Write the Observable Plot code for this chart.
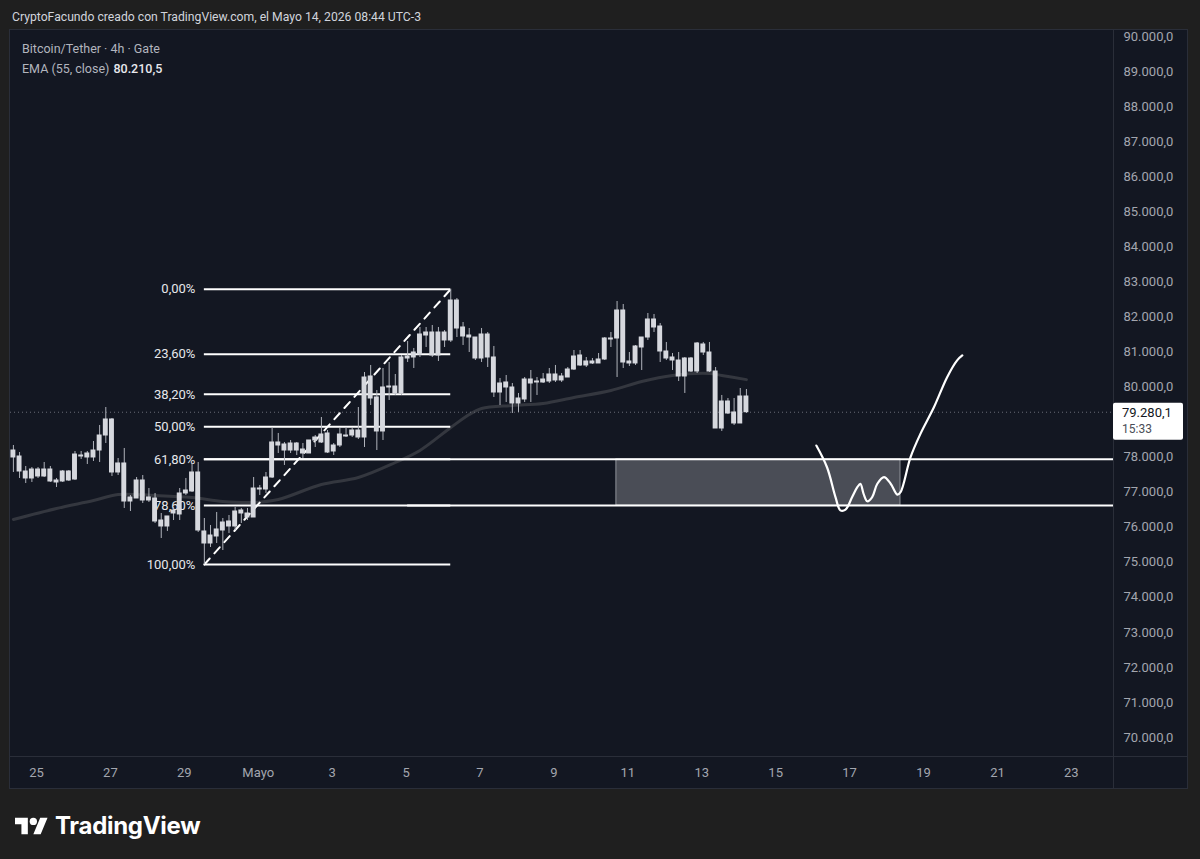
<!DOCTYPE html>
<html><head><meta charset="utf-8">
<script src="https://cdn.jsdelivr.net/npm/d3@7"></script>
<script src="https://cdn.jsdelivr.net/npm/@observablehq/plot@0.6"></script>
<style>
html,body{margin:0;padding:0;background:#1f1f1f;width:1200px;height:859px;overflow:hidden;font-family:Roboto,"Liberation Sans",sans-serif;}
#title{position:absolute;left:12px;top:10px;color:#d1d4dc;font-size:12.2px;white-space:nowrap;}
#panel{position:absolute;left:10px;top:30px;width:1177px;height:758px;background:#131722;box-shadow:0 0 0 1px #2a2e39;}
#panel svg{display:block;}
.leg{position:absolute;left:12px;font-size:12.5px;color:#b2b5be;white-space:nowrap;}
.leg b{color:#e8e9ee;font-weight:500;margin-left:4px;}
#logo{position:absolute;left:15px;top:811px;display:flex;align-items:center;color:#fff;}
#logo span{font-family:Inter,Roboto,sans-serif;font-weight:700;font-size:24px;margin-left:7px;letter-spacing:-0.3px;}
</style></head>
<body>
<div id="title">CryptoFacundo creado con TradingView.com, el Mayo 14, 2026 08:44 UTC-3</div>
<div id="panel">
  <div class="leg" style="top:11px">Bitcoin/Tether · 4h · Gate</div>
  <div class="leg" style="top:31px">EMA (55, close)<b>80.210,5</b></div>
</div>
<div id="logo">
  <svg width="33" height="20" viewBox="0 6 36 20"><path fill="#fff" d="M14 25H7V14H0V7h14v18zM28 25h-8l7.5-18h8L28 25z"/><circle fill="#fff" cx="20" cy="11" r="4"/></svg>
  <span>TradingView</span>
</div>
<script>
// ---- data ----
const candleStart = "2026-04-24T09:00:00Z"; // first 4h candle
const open = [78188,78017,77390,77390,77646,77447,77646,77276,77304,77589,77361,78046,77989,77989,78188,78616,79073,77561,77818,76733,76819,77333,76762,76819,76191,76020,76391,76363,76962,77019,77561,75878,75535,75735,75906,76020,76020,76477,76391,76277,77076,77076,77418,78417,78360,78188,78388,78217,78103,78474,78417,78674,78160,78331,78616,78616,78759,78559,80300,79701,78731,79986,80014,79815,80813,80842,80927,81469,81555,80899,81555,81327,82468,81698,81469,81412,80813,81498,80842,79843,80129,79986,79529,79644,80214,80129,80129,80157,80357,80186,80271,80499,80899,80728,80671,80671,80785,81384,81384,82183,80671,80671,81127,81412,81926,81726,81013,80842,80756,80300,80813,80442,81213,80984,80442,78816,79586,79273,78959,79729];
const high = [78331,78131,77732,77703,77703,77846,77732,77390,77618,77618,78160,78160,78160,78445,78902,79415,79101,77960,78246,76905,77418,77475,77104,76962,76391,76306,76562,77104,77390,77818,77846,76248,76049,76420,76248,76334,76562,76534,76534,77418,77190,77561,78845,78674,78417,78474,78417,78388,78474,78616,79130,78759,78388,78816,78845,78816,79415,80414,80614,79900,80528,80699,80357,80899,81298,81099,81698,81698,81755,81698,81612,82790,82525,81840,81669,81412,81669,81555,81156,80243,80328,80100,79815,80271,80471,80271,80385,80528,80614,80385,80556,81041,81041,80842,80813,80956,81412,81555,82439,82354,80984,81184,81412,82097,82069,81812,81270,80956,80984,80842,80842,81270,81270,81270,80556,79758,79672,79672,79957,79929];
const low = [77561,77390,77247,77276,77390,77418,77276,77133,77276,77304,77333,77932,77789,77875,77846,78388,77447,77475,76534,76448,76819,76676,76705,76106,75678,75878,76191,76191,76905,76990,75849,74936,75421,75535,75335,75821,75906,76106,76191,76277,76905,76962,77390,78103,77761,78103,78046,77960,78103,78274,78388,78103,78046,78274,78559,78559,78502,78274,79472,78188,78474,79615,79758,79758,80699,80528,80842,81127,80842,80728,81127,81270,81412,81184,80984,80756,80699,80556,79701,79472,79558,79244,79273,79558,79558,79758,80100,80100,80129,80129,80271,80471,80585,80556,80642,80671,80756,81127,80271,80528,80585,80614,80471,81327,81555,80699,80756,80471,80157,79815,80414,80385,80899,80414,78816,78731,79216,78902,78959,79244];
const close = [77989,77589,77589,77646,77447,77646,77304,77333,77589,77333,78074,78017,78103,78188,78616,79073,77561,77818,76733,76848,77333,76762,76848,76163,76020,76306,76477,76962,77047,77561,75906,75535,75763,75935,76134,76163,76448,76391,76277,77104,77104,77418,78417,78331,78188,78388,78188,78103,78474,78559,78645,78131,78331,78645,78588,78759,78559,80271,79672,78731,79986,80014,79815,80842,80870,80984,81498,81555,80899,81555,81327,82468,81669,81441,81412,80813,81498,80842,79843,80100,79986,79529,79672,80214,80100,80157,80214,80357,80186,80300,80499,80870,80614,80614,80728,80785,81384,81355,82183,80699,80728,81156,81412,81926,81698,81013,80813,80756,80300,80813,80442,81241,80984,80442,78816,79586,79244,78959,79729,79280.1];

// EMA(55) sampled at candle indices
const emaIdx = [0,7,13,17,23,29,34,39,43,50,56,62,66,71,74,76,81,86,91,97,102,107,113,115,119];
const emaVal = [76220,76534,76762,76933,76905,76848,76734,76705,76790,77219,77418,77846,78190,78844,79216,79387,79473,79530,79700,79900,80157,80329,80386,80329,80210.5];

// Fibonacci retracement (candle 32 low -> candle 72 high)
const fibStartIdx = 31, fibEndIdx = 71;
const fibHigh = 82790, fibLow = 74936;
const fibLevels = [0, 0.236, 0.382, 0.5, 0.618, 0.786, 1];
const fibLabels = ["0,00%","23,60%","38,20%","50,00%","61,80%","78,60%","100,00%"];
const rayLevels = [0.618, 0.786];
const rayStartIdx = [31, 64];

// zone rectangle
const zoneStart = "2026-05-10T16:34:00Z", zoneEnd = "2026-05-18T09:02:00Z";

// hand-drawn projection
const pathTimes = ["2026-05-16T02:24","2026-05-16T09:20","2026-05-16T14:50","2026-05-16T18:00","2026-05-16T21:20","2026-05-17T01:40","2026-05-17T05:00","2026-05-17T07:00","2026-05-17T09:05","2026-05-17T11:30","2026-05-17T14:40","2026-05-17T18:00","2026-05-17T22:20","2026-05-18T02:40","2026-05-18T07:00","2026-05-18T09:05","2026-05-18T15:35","2026-05-18T22:05","2026-05-19T06:45","2026-05-19T15:20","2026-05-19T21:50","2026-05-20T01:10"];
const pathPrices = [78330,77710,76860,76480,76500,76860,77140,77240,76950,76740,76860,77240,77430,77240,76930,77000,78000,78670,79420,80280,80760,80900];

const lastPrice = 79280.1, lastTimer = "15:33";
// 79.000,0 is hidden behind the last-price label in the original
const yTicks = [70000,71000,72000,73000,74000,75000,76000,77000,78000,80000,81000,82000,83000,84000,85000,86000,87000,88000,89000,90000];
const xTickDates = ["2026-04-25","2026-04-27","2026-04-29","2026-05-01","2026-05-03","2026-05-05","2026-05-07","2026-05-09","2026-05-11","2026-05-13","2026-05-15","2026-05-17","2026-05-19","2026-05-21","2026-05-23"];
const xTickLabels = ["25","27","29","Mayo","3","5","7","9","11","13","15","17","19","21","23"];

// ---- build ----
const H4 = 4*3600e3;
const t0 = new Date(candleStart).getTime();
const candles = open.map((o,i)=>({time:new Date(t0+i*H4), open:o, high:high[i], low:low[i], close:close[i]}));
const ema = emaIdx.map((k,i)=>({time:new Date(t0+k*H4), value:emaVal[i]}));
const fibT1 = new Date(t0+fibStartIdx*H4), fibT2 = new Date(t0+fibEndIdx*H4);
const fibPrice = l => fibHigh - l*(fibHigh-fibLow);
const fib = fibLevels.map((l,i)=>({price:fibPrice(l), label:fibLabels[i]}));
const xDomain = [new Date("2026-04-24T07:07:00Z"), new Date("2026-05-24T03:22:00Z")];
const rays = rayLevels.map((l,i)=>({price:fibPrice(l), t1:new Date(t0+rayStartIdx[i]*H4)}));
const path = pathTimes.map((t,i)=>({time:new Date(t+":00Z"), price:pathPrices[i]}));
const labelByTime = new Map(xTickDates.map((d,i)=>[+new Date(d+"T00:00:00Z"), xTickLabels[i]]));
const fmt = d3.formatLocale({decimal:",", thousands:".", grouping:[3], currency:["",""]}).format(",.1f");
const halfBody = 1.6*3600e3;

const chart = Plot.plot({
  width:1177, height:758, marginLeft:0, marginRight:74, marginTop:0, marginBottom:32,
  style:{background:"#131722", color:"#a3a6af", fontFamily:"Roboto, sans-serif", fontSize:"13px"},
  x:{type:"utc", domain:xDomain},
  y:{domain:[69458, 90171]},
  marks:[
    Plot.axisY({anchor:"right", ticks:yTicks, tickFormat:fmt, tickSize:0, tickPadding:10, fill:"#a3a6af", fontSize:13, label:null}),
    Plot.axisX({ticks:xTickDates.map(d=>new Date(d+"T00:00:00Z")), tickFormat:d=>labelByTime.get(+d), tickSize:0, tickPadding:11, fill:"#a3a6af", fontSize:13, label:null}),
    Plot.line(ema, {x:"time", y:"value", stroke:"#34373f", strokeWidth:3, curve:"catmull-rom"}),
    Plot.ruleY([lastPrice], {stroke:"#6a6d78", strokeDasharray:"1,3", strokeWidth:1}),
    Plot.rect([{}], {x1:()=>new Date(zoneStart), x2:()=>new Date(zoneEnd), y1:()=>fibPrice(0.618), y2:()=>fibPrice(0.786), fill:"#4a4d56", stroke:"#8f929a", strokeWidth:1}),
    Plot.ruleY(fib, {y:"price", x1:()=>fibT1, x2:()=>fibT2, stroke:"#ffffff", strokeWidth:2}),
    Plot.ruleY(rays, {y:"price", x1:"t1", x2:()=>xDomain[1], stroke:"#ffffff", strokeWidth:2}),
    Plot.text(fib, {x:()=>fibT1, y:"price", text:"label", textAnchor:"end", dx:-9, fill:"#e6e7eb", fontSize:13}),
    Plot.line([{t:fibT1,p:fibLow},{t:fibT2,p:fibHigh}], {x:"t", y:"p", stroke:"#ffffff", strokeWidth:2, strokeDasharray:"8,7"}),
    Plot.ruleX(candles, {x:"time", y1:"low", y2:"high", stroke:"#b0b3bb", strokeWidth:1}),
    Plot.rect(candles, {x1:d=>new Date(+d.time-halfBody), x2:d=>new Date(+d.time+halfBody), y1:"open", y2:"close", fill:"#d6d8de", insetTop:-0.5, insetBottom:-0.5}),
    Plot.line(path, {x:"time", y:"price", stroke:"#ffffff", strokeWidth:2.2, curve:"catmull-rom"})
  ]
});
document.getElementById("panel").prepend(chart);

// separators & last price label via the plot's scales
const svg = d3.select(chart);
const W = 1177, axisX0 = W - 74, axisY0 = 758 - 32;
svg.append("line").attr("x1",axisX0+0.5).attr("x2",axisX0+0.5).attr("y1",0).attr("y2",758).attr("stroke","#2a2e39");
svg.append("line").attr("x1",0).attr("x2",W).attr("y1",axisY0+0.5).attr("y2",axisY0+0.5).attr("stroke","#2a2e39");
const yy = chart.scale("y").apply(lastPrice);
const g = svg.append("g").attr("text-anchor","start").attr("font-family","Roboto, sans-serif");
g.append("rect").attr("x",axisX0).attr("y",yy-9).attr("width",70).attr("height",37).attr("rx",2).attr("fill","#ffffff");
g.append("text").attr("x",axisX0+9).attr("y",yy+5).attr("fill","#131722").attr("font-size",13).text(fmt(lastPrice));
g.append("text").attr("x",axisX0+9).attr("y",yy+21).attr("fill","#4a4d56").attr("font-size",12).text(lastTimer);
</script>
</body></html>
